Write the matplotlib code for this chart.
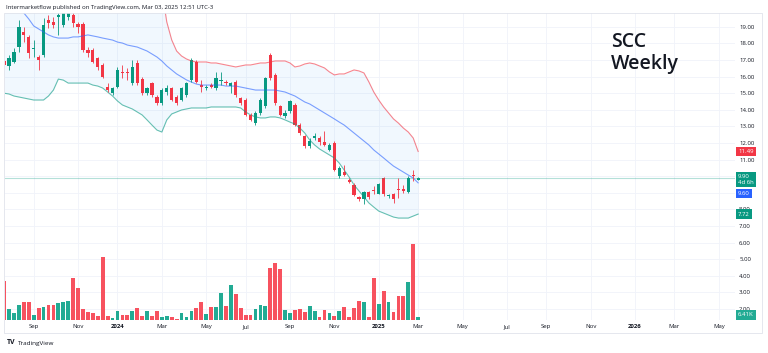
import numpy as np
import pandas as pd
import matplotlib
matplotlib.use("Agg")
import matplotlib.pyplot as plt
import matplotlib.transforms as mtransforms
from matplotlib.patches import Rectangle

plt.rcParams["font.family"] = ["Open Sans", "DejaVu Sans"]

# weekly bars, first one only partly visible at the left edge
dates = pd.date_range("2023-07-24", periods=85, freq="W-MON")

opens = [16.95, 16.64, 16.90, 17.80, 18.70, 18.40, 17.65, 17.20, 17.30, 19.40,
         19.30, 19.60, 19.10, 19.60, 19.70, 19.15, 19.15, 17.60, 17.60, 17.10,
         16.70, 15.40, 15.00, 15.40, 16.30, 16.25, 15.60, 16.80, 15.85, 15.00,
         15.60, 14.75, 14.40, 15.05, 15.30, 14.80, 14.60, 14.90, 15.80, 16.90,
         15.50, 15.30, 15.50, 15.30, 15.72, 15.70, 15.45, 15.70, 14.70, 14.60,
         13.70, 13.20, 13.80, 14.20, 17.30, 16.10, 14.20, 13.60, 13.90, 14.30,
         13.10, 12.40, 11.80, 12.30, 12.30, 12.05, 11.60, 12.00, 10.00, 10.25,
         9.80, 9.50, 8.75, 8.60, 9.05, 9.18, 8.95, 9.90, 8.80, 8.90,
         9.22, 9.20, 9.05, 10.05, 9.80]
highs = [17.10, 17.30, 17.70, 19.40, 19.00, 18.50, 18.20, 17.30, 19.50, 19.70,
         19.60, 19.90, 20.00, 20.30, 19.90, 19.30, 19.30, 17.80, 17.70, 17.20,
         16.80, 15.60, 15.40, 16.60, 16.70, 16.50, 17.00, 17.00, 16.00, 15.40,
         15.70, 14.90, 15.30, 15.50, 15.40, 14.90, 15.40, 15.70, 17.10, 17.00,
         15.80, 15.50, 15.60, 16.30, 16.30, 15.80, 15.70, 15.80, 14.80, 14.70,
         13.80, 13.90, 14.70, 16.00, 17.40, 16.20, 14.30, 14.00, 14.60, 14.40,
         13.20, 12.50, 12.30, 12.60, 12.40, 12.70, 12.00, 12.10, 10.60, 10.70,
         9.90, 9.60, 8.80, 9.10, 9.10, 9.40, 9.60, 9.95, 8.90, 9.00,
         9.90, 9.50, 10.00, 10.35, 9.95]
lows = [16.60, 16.40, 16.80, 17.50, 18.10, 17.10, 17.20, 16.40, 17.20, 18.90,
        18.90, 18.50, 19.00, 19.40, 19.00, 18.60, 17.50, 17.20, 16.80, 16.40,
        15.90, 15.10, 14.90, 15.30, 15.90, 15.80, 15.50, 15.50, 14.90, 14.90,
        14.80, 14.30, 14.30, 14.90, 14.50, 14.30, 14.50, 14.80, 15.70, 15.60,
        15.10, 15.20, 15.30, 15.20, 15.50, 15.50, 15.00, 14.80, 14.30, 13.60,
        13.30, 13.10, 13.70, 14.10, 15.80, 14.30, 13.60, 13.50, 13.80, 13.00,
        12.50, 11.70, 11.70, 12.20, 11.90, 11.80, 11.50, 10.30, 9.90, 10.00,
        9.60, 8.80, 8.50, 8.30, 8.60, 8.90, 8.90, 8.80, 8.70, 8.40,
        8.70, 9.00, 9.00, 9.70, 9.75]
closes = [16.70, 17.12, 17.50, 19.00, 18.50, 17.40, 17.75, 17.00, 19.10, 19.20,
          19.10, 19.70, 19.80, 20.10, 19.20, 19.00, 17.60, 17.40, 16.90, 16.60,
          16.00, 15.20, 15.30, 16.40, 16.20, 16.20, 16.60, 15.60, 15.00, 15.30,
          14.90, 14.40, 15.20, 15.30, 14.60, 14.40, 15.30, 15.60, 17.00, 15.70,
          15.40, 15.40, 15.40, 15.90, 15.78, 15.60, 15.60, 14.90, 14.40, 13.70,
          13.40, 13.80, 14.60, 15.90, 15.90, 14.40, 13.70, 13.80, 14.50, 13.10,
          12.60, 11.80, 12.10, 12.40, 12.05, 11.90, 11.90, 10.40, 10.50, 10.05,
          9.65, 8.85, 8.60, 9.05, 8.75, 9.12, 9.55, 8.90, 8.85, 8.60,
          9.18, 9.10, 9.90, 10.00, 9.90]

# volume in thousands of shares
volume = [82, 23, 15, 32, 38, 38, 11, 25, 27, 32,
          32, 36, 38, 40, 88, 67, 23, 17, 15, 8,
          132, 8, 4, 19, 11, 11, 19, 25, 8, 19,
          8, 19, 6, 8, 6, 2, 15, 6, 19, 25,
          38, 13, 27, 27, 57, 29, 74, 55, 25, 11,
          11, 23, 32, 29, 109, 120, 107, 21, 15, 21,
          23, 17, 29, 19, 6, 21, 15, 8, 19, 27,
          6, 25, 40, 38, 6, 88, 34, 61, 38, 17,
          50, 50, 80, 160, 6.41]

# Bollinger bands
bb_upper = [27.5, 26.88, 26.04, 25.49, 24.95, 24.29, 23.51, 23.14, 22.78, 22.18,
            21.58, 20.79, 20.85, 21.04, 21.16, 21.16, 21.28, 21.40, 21.40, 21.34,
            21.34, 21.46, 21.58, 21.64, 21.76, 21.64, 21.64, 21.70, 21.64, 21.70,
            21.64, 21.58, 21.22, 19.29, 18.21, 17.54, 17.24, 17.06, 16.94, 16.88,
            16.88, 16.88, 16.82, 16.82, 16.76, 16.70, 16.64, 16.58, 16.64, 16.70,
            16.70, 16.76, 16.82, 16.82, 16.88, 16.94, 16.94, 16.94, 16.82, 16.58,
            16.64, 16.76, 16.82, 16.76, 16.64, 16.52, 16.28, 16.10, 16.16, 16.16,
            16.28, 16.40, 16.34, 16.22, 15.68, 15.07, 14.59, 14.17, 13.81, 13.45,
            13.20, 12.90, 12.66, 12.30, 11.49][:85]
bb_mid = [21.2, 20.91, 20.43, 20.13, 19.83, 19.47, 19.05, 18.87, 18.69, 18.51,
          18.39, 18.32, 18.32, 18.32, 18.39, 18.39, 18.45, 18.51, 18.45, 18.39,
          18.32, 18.26, 18.20, 18.08, 18.02, 17.90, 17.84, 17.78, 17.66, 17.54,
          17.36, 17.18, 16.94, 16.64, 16.40, 16.16, 15.98, 15.80, 15.67, 15.55,
          15.49, 15.49, 15.49, 15.49, 15.49, 15.43, 15.43, 15.43, 15.37, 15.31,
          15.25, 15.19, 15.19, 15.19, 15.19, 15.19, 15.13, 15.07, 14.95, 14.83,
          14.65, 14.47, 14.35, 14.17, 13.99, 13.81, 13.63, 13.45, 13.26, 13.08,
          12.84, 12.60, 12.36, 12.12, 11.88, 11.58, 11.34, 11.10, 10.85, 10.61,
          10.43, 10.25, 10.07, 9.89, 9.60][:85]
bb_lower = [15.00, 14.95, 14.83, 14.77, 14.71, 14.65, 14.59, 14.59, 14.59, 14.83,
            15.19, 15.85, 15.79, 15.61, 15.61, 15.61, 15.61, 15.61, 15.49, 15.43,
            15.31, 15.07, 14.83, 14.53, 14.29, 14.17, 14.05, 13.87, 13.69, 13.39,
            13.08, 12.78, 12.66, 13.39, 13.75, 13.87, 13.99, 14.05, 14.11, 14.11,
            14.11, 14.11, 14.17, 14.17, 14.17, 14.17, 14.17, 14.17, 14.11, 13.87,
            13.69, 13.57, 13.51, 13.51, 13.57, 13.57, 13.51, 13.39, 13.26, 13.14,
            12.90, 12.60, 12.18, 11.88, 11.64, 11.46, 11.28, 11.10, 10.79, 10.37,
            9.95, 9.47, 9.11, 8.75, 8.39, 8.14, 7.90, 7.78, 7.66, 7.54,
            7.48, 7.48, 7.48, 7.60, 7.72][:85]

price_ticks = list(range(2, 20))
# 9.00 and 10.00 sit under the last-price tags on the scale
hidden_ticks = [9, 10]
time_ticks = [d for d in pd.date_range("2023-09-01", "2026-05-31", freq="WOM-1MON")
              if d.month % 2 == 1]
time_labels = ["Sep", "Nov", "2024", "Mar", "May", "Jul", "Sep", "Nov", "2025",
               "Mar", "May", "Jul", "Sep", "Nov", "2026", "Mar", "May"]

GREEN, RED = "#089981", "#F23645"
VGREEN, VRED = "#22AB94", "#F7525F"
TXT = "#131722"

o, h, l, c = map(np.array, (opens, highs, lows, closes))
up = c >= o
ccol = np.where(up, GREEN, RED)
vcol = np.where(up, VGREEN, VRED)

fig = plt.figure(figsize=(7.68, 3.53), dpi=100)
rect = [5 / 768, 33 / 353, 730 / 768, 307 / 353]
ax = fig.add_axes(rect)
ax_vol = fig.add_axes(rect, sharex=ax)

# bands
ax.fill_between(dates, bb_lower, bb_upper, color="#2196F3", alpha=0.06, lw=0)
ax.plot(dates, bb_upper, color=RED, lw=0.8, alpha=0.6)
ax.plot(dates, bb_mid, color="#2962FF", lw=0.8, alpha=0.6)
ax.plot(dates, bb_lower, color=GREEN, lw=0.8, alpha=0.6)
ax.axhline(closes[-1], color=GREEN, lw=0.8, alpha=0.3)

# candles
ax.vlines(dates, l, h, colors=ccol, lw=0.6)
body = np.maximum(np.abs(c - o), 0.04)
ax.bar(dates, body, bottom=np.minimum(o, c), width=4.6, color=ccol, lw=0)

ax.set_ylim(1.34, 19.83)
ax.set_xlim(pd.Timestamp("2023-07-25 06:00"), pd.Timestamp("2026-05-27"))
ax.set_yticks(price_ticks)
ax.set_yticklabels(["" if v in hidden_ticks else f"{v:.2f}" for v in price_ticks])
ax.yaxis.tick_right()
ax.set_xticks(time_ticks)
ax.set_xticklabels(time_labels)
for t in ax.get_xticklabels():
    if t.get_text().isdigit():
        t.set_fontweight("bold")
ax.tick_params(axis="both", length=0, labelsize=4.3, labelcolor=TXT)
ax.tick_params(axis="y", pad=3)
ax.tick_params(axis="x", pad=3)
ax.grid(True, color="#F0F3FA", lw=0.6)
ax.set_axisbelow(True)
for s in ax.spines.values():
    s.set_visible(False)

# volume overlay
ax_vol.bar(dates, volume, width=5.4, color=vcol, lw=0)
ax_vol.set_ylim(0, 645)
ax_vol.patch.set_visible(False)
ax_vol.axis("off")

# price scale tags
tr = mtransforms.blended_transform_factory(ax.transAxes, ax.transData)
tag = dict(xycoords=tr, textcoords="offset pixels", ha="left", fontsize=4.3,
           color="white", annotation_clip=False, zorder=6)
ax.annotate(f"{bb_upper[-1]:.2f}", xy=(1, bb_upper[-1]), xytext=(3, 0), va="center",
            bbox=dict(boxstyle="square,pad=0.35", fc=RED, ec="none"), **tag)
ax.annotate(f"{closes[-1]:.2f}\n4d 6h", xy=(1, closes[-1]), xytext=(3, 4), va="top",
            linespacing=1.3, bbox=dict(boxstyle="square,pad=0.35", fc=GREEN, ec="none"), **tag)
ax.annotate(f"{bb_mid[-1]:.2f}", xy=(1, bb_mid[-1]), xytext=(3, -11), va="center",
            bbox=dict(boxstyle="square,pad=0.35", fc="#2962FF", ec="none"), **tag)
ax.annotate(f"{bb_lower[-1]:.2f}", xy=(1, bb_lower[-1]), xytext=(3, 0), va="center",
            bbox=dict(boxstyle="square,pad=0.35", fc=GREEN, ec="none"), **tag)
trv = mtransforms.blended_transform_factory(ax_vol.transAxes, ax_vol.transData)
tag["xycoords"] = trv
ax_vol.annotate(f"{volume[-1]:.2f}K", xy=(1, volume[-1]), xytext=(3, 2), va="center",
                bbox=dict(boxstyle="square,pad=0.35", fc=VGREEN, ec="none"), **tag)

fig.add_artist(Rectangle((4 / 768, 20 / 353), 758 / 768, 320 / 353, transform=fig.transFigure,
                         fill=False, ec="#E0E3EB", lw=0.6))

fig.text(6 / 768, 1 - 7 / 353, "Intermarketflow published on TradingView.com, Mar 03, 2025 12:51 UTC-3",
         fontsize=4.3, color=TXT, va="center")
fig.text(611 / 768, 1 - 32 / 353, "SCC\nWeekly", fontsize=14, color=TXT,
         va="top", ha="left", fontweight="semibold", linespacing=1.1)
fig.text(7 / 768, 1 - 343 / 353, "TV", fontsize=5, fontweight="bold", color=TXT, va="center")
fig.text(18 / 768, 1 - 343 / 353, "TradingView", fontsize=4.6, color=TXT, va="center")

fig.savefig("out.png", dpi=100, facecolor="white")
